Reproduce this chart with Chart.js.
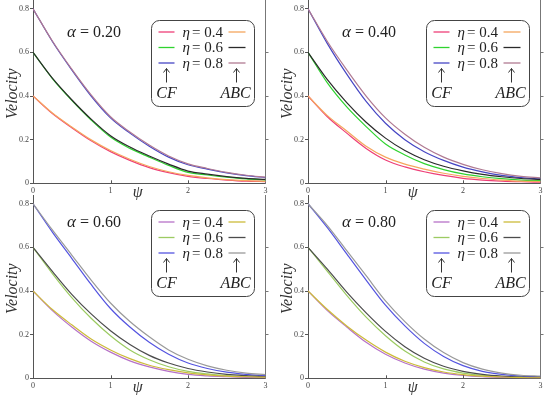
<!DOCTYPE html>
<html>
<head>
<meta charset="utf-8">
<script src="https://cdn.jsdelivr.net/npm/chart.js@4.4.0/dist/chart.umd.min.js"></script>
<style>
  html, body { margin: 0; padding: 0; background: #fff; }
  #wrap { position: relative; width: 550px; height: 395px; overflow: hidden; }
  .panel { position: absolute; width: 275px; height: 200px; }
</style>
</head>
<body>
<div id="wrap">
  <div class="panel" style="left:0;top:0"><canvas id="c1" width="275" height="200"></canvas></div>
  <div class="panel" style="left:275px;top:0"><canvas id="c2" width="275" height="200"></canvas></div>
  <div class="panel" style="left:0;top:195px"><canvas id="c3" width="275" height="200"></canvas></div>
  <div class="panel" style="left:275px;top:195px"><canvas id="c4" width="275" height="200"></canvas></div>
</div>
<script>
// x positions (psi) shared by every curve
const psi = [0, 0.25, 0.5, 0.75, 1, 1.25, 1.5, 1.75, 2, 2.25, 2.5, 2.75, 3];
const xTicks = [0, 1, 2, 3];
const yTicks = [0, 0.2, 0.4, 0.6, 0.8];
const etaLabels = ['0.4', '0.6', '0.8'];

// alpha = 0.20
const cf04_a20  = [0.40, 0.32, 0.255, 0.195, 0.145, 0.105, 0.072, 0.049, 0.032, 0.022, 0.015, 0.010, 0.008];
const abc04_a20 = [0.40, 0.322, 0.258, 0.199, 0.150, 0.110, 0.077, 0.053, 0.036, 0.025, 0.017, 0.012, 0.009];
const cf06_a20  = [0.60, 0.48, 0.38, 0.29, 0.212, 0.160, 0.120, 0.082, 0.050, 0.038, 0.028, 0.020, 0.015];
const abc06_a20 = [0.60, 0.482, 0.383, 0.294, 0.218, 0.166, 0.125, 0.088, 0.056, 0.042, 0.031, 0.023, 0.018];
const cf08_a20  = [0.80, 0.65, 0.52, 0.40, 0.300, 0.230, 0.170, 0.120, 0.085, 0.065, 0.048, 0.035, 0.026];
const abc08_a20 = [0.80, 0.652, 0.523, 0.405, 0.305, 0.235, 0.175, 0.125, 0.089, 0.068, 0.050, 0.037, 0.028];

// alpha = 0.40
const cf04_a40  = [0.40, 0.305, 0.230, 0.160, 0.107, 0.075, 0.053, 0.036, 0.023, 0.015, 0.010, 0.007, 0.005];
const abc04_a40 = [0.40, 0.310, 0.240, 0.170, 0.120, 0.088, 0.065, 0.046, 0.032, 0.022, 0.015, 0.010, 0.008];
const cf06_a40  = [0.60, 0.46, 0.35, 0.26, 0.180, 0.130, 0.090, 0.063, 0.043, 0.030, 0.021, 0.015, 0.012];
const abc06_a40 = [0.60, 0.475, 0.37, 0.28, 0.207, 0.150, 0.108, 0.078, 0.057, 0.041, 0.030, 0.022, 0.018];
const cf08_a40  = [0.80, 0.64, 0.50, 0.375, 0.275, 0.200, 0.145, 0.105, 0.074, 0.052, 0.036, 0.026, 0.020];
const abc08_a40 = [0.80, 0.65, 0.52, 0.40, 0.300, 0.225, 0.165, 0.120, 0.087, 0.062, 0.044, 0.032, 0.025];

// alpha = 0.60
const cf04_a60  = [0.40, 0.31, 0.235, 0.170, 0.120, 0.080, 0.052, 0.032, 0.018, 0.011, 0.007, 0.004, 0.003];
const abc04_a60 = [0.40, 0.315, 0.245, 0.180, 0.130, 0.090, 0.060, 0.040, 0.025, 0.016, 0.010, 0.007, 0.005];
const cf06_a60  = [0.60, 0.48, 0.37, 0.275, 0.195, 0.130, 0.085, 0.053, 0.032, 0.020, 0.012, 0.007, 0.005];
const abc06_a60 = [0.60, 0.49, 0.385, 0.295, 0.218, 0.155, 0.105, 0.070, 0.045, 0.029, 0.018, 0.012, 0.008];
const cf08_a60  = [0.80, 0.67, 0.55, 0.43, 0.320, 0.235, 0.165, 0.110, 0.070, 0.045, 0.028, 0.018, 0.012];
const abc08_a60 = [0.80, 0.68, 0.565, 0.45, 0.345, 0.260, 0.190, 0.130, 0.087, 0.057, 0.037, 0.024, 0.017];

// alpha = 0.80
const cf04_a80  = [0.40, 0.31, 0.235, 0.165, 0.110, 0.070, 0.042, 0.024, 0.013, 0.007, 0.004, 0.002, 0.001];
const abc04_a80 = [0.40, 0.315, 0.240, 0.175, 0.120, 0.078, 0.049, 0.029, 0.017, 0.010, 0.006, 0.003, 0.002];
const cf06_a80  = [0.60, 0.49, 0.38, 0.28, 0.195, 0.125, 0.075, 0.043, 0.024, 0.013, 0.007, 0.004, 0.003];
const abc06_a80 = [0.60, 0.50, 0.395, 0.30, 0.215, 0.145, 0.092, 0.055, 0.032, 0.018, 0.010, 0.006, 0.004];
const cf08_a80  = [0.80, 0.69, 0.57, 0.45, 0.335, 0.240, 0.160, 0.100, 0.058, 0.032, 0.018, 0.010, 0.007];
const abc08_a80 = [0.80, 0.70, 0.585, 0.47, 0.355, 0.260, 0.180, 0.118, 0.072, 0.042, 0.024, 0.014, 0.010];

// colour sets: [cf0.4, cf0.6, cf0.8] and [abc0.4, abc0.6, abc0.8]
const warmCF  = ['#ee3f78', '#2fd32f', '#4646c4'];
const warmABC = ['#f5a65e', '#2a2a2a', '#b07a92'];
const coolCF  = ['#b672c8', '#9ccb62', '#5454e0'];
const coolABC = ['#cdbb3a', '#4c4c4c', '#9a9a9a'];

const SERIF = '"Liberation Serif", serif';

const panelDecor = {
    id: 'panelDecor',
    afterDraw(chart, args, opts) {
        const ctx = chart.ctx;
        const area = chart.chartArea;
        const dy = opts.dy;
        ctx.save();

        // small inward ticks on the x axis
        const xs = chart.scales.x;
        ctx.strokeStyle = '#555';
        ctx.lineWidth = 1;
        xTicks.slice(1, 3).forEach(v => {
            const px = Math.round(xs.getPixelForValue(v)) + 0.5;
            ctx.beginPath();
            ctx.moveTo(px, area.bottom);
            ctx.lineTo(px, area.bottom - 3);
            ctx.stroke();
        });

        // axis titles
        ctx.fillStyle = '#333';
        ctx.font = 'italic 16px ' + SERIF;
        ctx.textAlign = 'center';
        ctx.textBaseline = 'alphabetic';
        ctx.fillText('\u03C8', area.left + 0.45 * (area.right - area.left), 197);
        ctx.save();
        ctx.translate(area.left - 20, (area.top + area.bottom) / 2 + 2);
        ctx.rotate(-Math.PI / 2);
        ctx.fillText('Velocity', 0, 4);
        ctx.restore();

        // alpha label
        ctx.textAlign = 'left';
        ctx.fillStyle = '#222';
        ctx.font = 'italic 17px ' + SERIF;
        ctx.fillText('\u03B1', 67, 37 + dy);
        ctx.font = '16px ' + SERIF;
        ctx.fillText('= ' + opts.alpha, 80, 37 + dy);

        // legend box
        const bx = 151.5, by = 20.5 + dy, bw = 103, bh = 86;
        ctx.strokeStyle = '#444';
        ctx.lineWidth = 1;
        ctx.beginPath();
        ctx.roundRect(bx, by, bw, bh, 8);
        ctx.stroke();

        const rows = [by + 11.5, by + 27, by + 42.5];
        rows.forEach((ry, i) => {
            ctx.lineWidth = 1.3;
            ctx.strokeStyle = opts.cf[i];
            ctx.beginPath();
            ctx.moveTo(bx + 7, ry);
            ctx.lineTo(bx + 23, ry);
            ctx.stroke();
            ctx.strokeStyle = opts.abc[i];
            ctx.beginPath();
            ctx.moveTo(bx + 77, ry);
            ctx.lineTo(bx + 94, ry);
            ctx.stroke();
            ctx.fillStyle = '#222';
            ctx.font = 'italic 15px ' + SERIF;
            ctx.fillText('\u03B7', bx + 31, ry + 4.5);
            ctx.font = '15px ' + SERIF;
            ctx.fillText('= ' + etaLabels[i], bx + 40.5, ry + 4.5);
        });

        // arrows and column names
        ctx.strokeStyle = '#333';
        ctx.lineWidth = 1;
        [bx + 15, bx + 85].forEach(ax => {
            ctx.beginPath();
            ctx.moveTo(ax, by + 62);
            ctx.lineTo(ax, by + 48);
            ctx.moveTo(ax - 3, by + 52);
            ctx.lineTo(ax, by + 48);
            ctx.lineTo(ax + 3, by + 52);
            ctx.stroke();
        });
        ctx.fillStyle = '#222';
        ctx.font = 'italic 16px ' + SERIF;
        ctx.textAlign = 'center';
        ctx.fillText('CF', bx + 15, by + 77);
        ctx.fillText('ABC', bx + 84, by + 77);
        ctx.restore();
    }
};

function noPad(scale) {
    scale.paddingTop = 0;
    scale.paddingBottom = 0;
    scale.paddingLeft = 0;
    scale.paddingRight = 0;
}

function toPoints(values) {
    return values.map((v, i) => ({ x: psi[i], y: v }));
}

function makePanel(id, alpha, cfSeries, abcSeries, cfColors, abcColors, dy) {
    const datasets = [];
    for (let i = 0; i < 3; i++) {
        datasets.push({
            label: 'ABC eta=' + etaLabels[i],
            data: toPoints(abcSeries[i]),
            borderColor: abcColors[i],
            borderWidth: 1.2,
            pointRadius: 0,
            cubicInterpolationMode: 'monotone',
            fill: false
        });
        datasets.push({
            label: 'CF eta=' + etaLabels[i],
            data: toPoints(cfSeries[i]),
            borderColor: cfColors[i],
            borderWidth: 1.2,
            pointRadius: 0,
            cubicInterpolationMode: 'monotone',
            fill: false
        });
    }

    new Chart(document.getElementById(id), {
        type: 'line',
        data: { datasets: datasets },
        plugins: [panelDecor],
        options: {
            responsive: false,
            animation: false,
            layout: { padding: 0 },
            plugins: {
                legend: { display: false },
                tooltip: { enabled: false },
                panelDecor: { alpha: alpha, cf: cfColors, abc: abcColors, dy: dy }
            },
            scales: {
                x: {
                    type: 'linear',
                    min: 0,
                    max: 3,
                    afterBuildTicks: s => { s.ticks = xTicks.map(v => ({ value: v })); },
                    afterFit: s => { s.height = 16.7; noPad(s); },
                    grid: { display: true, drawOnChartArea: false, drawTicks: false },
                    border: { display: true, color: '#555', width: 1 },
                    ticks: {
                        padding: 3,
                        color: '#444',
                        font: { family: SERIF, size: 8 },
                        maxRotation: 0
                    }
                },
                y: {
                    min: 0,
                    max: 0.84,
                    afterBuildTicks: s => { s.ticks = yTicks.map(v => ({ value: v })); },
                    afterFit: s => { s.width = 33; noPad(s); },
                    grid: { display: true, drawOnChartArea: false, tickLength: 3, color: '#555' },
                    border: { display: true, color: '#555', width: 1 },
                    ticks: {
                        padding: 1,
                        color: '#444',
                        font: { family: SERIF, size: 8 },
                        callback: v => (v === 0 ? '0' : v.toFixed(1))
                    }
                },
                y2: {
                    position: 'right',
                    min: 0,
                    max: 0.84,
                    afterBuildTicks: s => { s.ticks = [0.2, 0.4, 0.6].map(v => ({ value: v })); },
                    afterFit: s => { s.width = 9.5; noPad(s); },
                    grid: { display: true, drawOnChartArea: false, tickLength: 3, color: '#777' },
                    border: { display: true, color: '#777', width: 1 },
                    ticks: { display: false }
                }
            }
        }
    });
}

makePanel('c1', '0.20', [cf04_a20, cf06_a20, cf08_a20], [abc04_a20, abc06_a20, abc08_a20], warmCF, warmABC, 0);
makePanel('c2', '0.40', [cf04_a40, cf06_a40, cf08_a40], [abc04_a40, abc06_a40, abc08_a40], warmCF, warmABC, 0);
makePanel('c3', '0.60', [cf04_a60, cf06_a60, cf08_a60], [abc04_a60, abc06_a60, abc08_a60], coolCF, coolABC, -5);
makePanel('c4', '0.80', [cf04_a80, cf06_a80, cf08_a80], [abc04_a80, abc06_a80, abc08_a80], coolCF, coolABC, -5);
</script>
</body>
</html>
